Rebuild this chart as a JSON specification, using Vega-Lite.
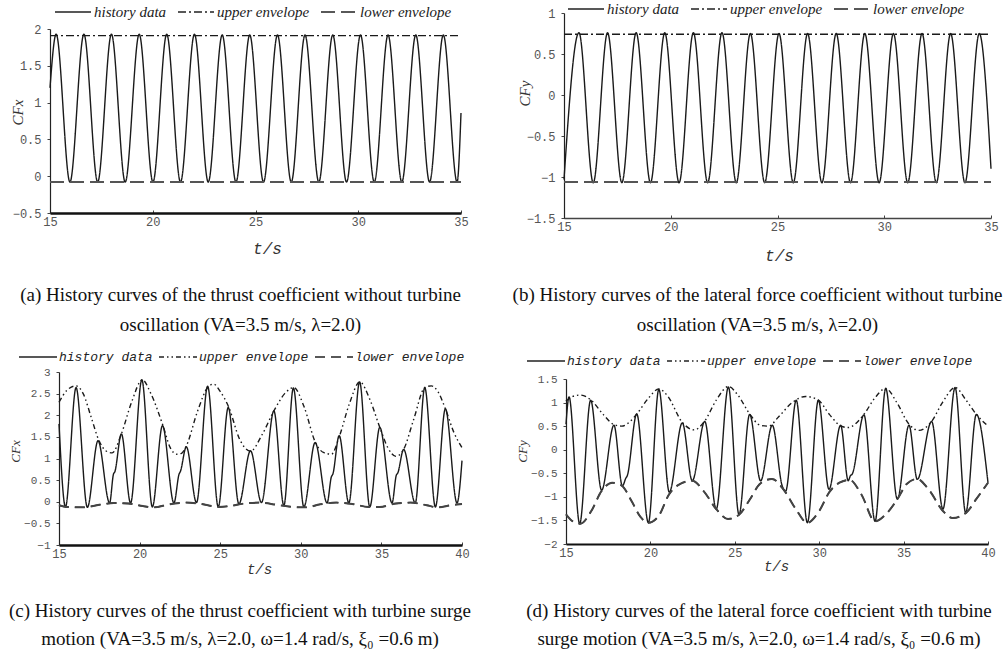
{
  "$schema": "https://vega.github.io/schema/vega-lite/v6.json",
  "padding": {"left": 8, "top": 0, "right": 0, "bottom": 0},
  "background": "white",
  "config": {
    "view": {"stroke": null},
    "axis": {"grid": false, "labelFont": "Liberation Mono", "labelFontSize": 12, "labelColor": "#555", "domainColor": "#222", "tickColor": "#444", "labelFlush": false, "titleFontWeight": "normal", "titleColor": "#333"},
    "axisX": {"tickSize": -3, "labelPadding": 6},
    "axisY": {"tickSize": 3, "labelPadding": 6, "domainWidth": 1.2},
    "legend": {"title": null, "direction": "horizontal", "symbolStrokeColor": "#222", "labelColor": "#222", "labelFontStyle": "italic", "padding": 0, "symbolSize": 256}
  },
  "datasets": {
    "a": [
      {"t": 15, "v": 1.2, "s": "h"}, {"t": 15.3, "v": 1.93, "s": "h"}, {"t": 15.97, "v": -0.08, "s": "h"}, {"t": 16.65, "v": 1.93, "s": "h"}, {"t": 17.32, "v": -0.08, "s": "h"}, {"t": 17.99, "v": 1.93, "s": "h"}, {"t": 18.66, "v": -0.08, "s": "h"}, {"t": 19.34, "v": 1.93, "s": "h"}, {"t": 20.01, "v": -0.08, "s": "h"}, {"t": 20.68, "v": 1.93, "s": "h"}, {"t": 21.35, "v": -0.08, "s": "h"}, {"t": 22.03, "v": 1.93, "s": "h"}, {"t": 22.7, "v": -0.08, "s": "h"}, {"t": 23.38, "v": 1.92, "s": "h"}, {"t": 24.05, "v": -0.08, "s": "h"}, {"t": 24.72, "v": 1.92, "s": "h"}, {"t": 25.39, "v": -0.08, "s": "h"}, {"t": 26.07, "v": 1.92, "s": "h"}, {"t": 26.74, "v": -0.08, "s": "h"}, {"t": 27.41, "v": 1.92, "s": "h"}, {"t": 28.08, "v": -0.08, "s": "h"}, {"t": 28.76, "v": 1.92, "s": "h"}, {"t": 29.43, "v": -0.08, "s": "h"}, {"t": 30.11, "v": 1.92, "s": "h"}, {"t": 30.78, "v": -0.08, "s": "h"}, {"t": 31.45, "v": 1.92, "s": "h"}, {"t": 32.12, "v": -0.08, "s": "h"}, {"t": 32.8, "v": 1.92, "s": "h"}, {"t": 33.47, "v": -0.08, "s": "h"}, {"t": 34.14, "v": 1.92, "s": "h"}, {"t": 34.81, "v": -0.08, "s": "h"}, {"t": 35, "v": 0.86, "s": "h"},
      {"t": 15, "v": 1.91, "s": "u"}, {"t": 35, "v": 1.91, "s": "u"},
      {"t": 15, "v": -0.08, "s": "l"}, {"t": 35, "v": -0.08, "s": "l"}
    ],
    "b": [
      {"t": 15, "v": -1.03, "s": "h"}, {"t": 15.7, "v": 0.76, "s": "h"}, {"t": 16.37, "v": -1.07, "s": "h"}, {"t": 17.04, "v": 0.76, "s": "h"}, {"t": 17.71, "v": -1.07, "s": "h"}, {"t": 18.38, "v": 0.76, "s": "h"}, {"t": 19.05, "v": -1.07, "s": "h"}, {"t": 19.72, "v": 0.76, "s": "h"}, {"t": 20.39, "v": -1.07, "s": "h"}, {"t": 21.06, "v": 0.76, "s": "h"}, {"t": 21.73, "v": -1.07, "s": "h"}, {"t": 22.4, "v": 0.76, "s": "h"}, {"t": 23.07, "v": -1.07, "s": "h"}, {"t": 23.73, "v": 0.75, "s": "h"}, {"t": 24.4, "v": -1.07, "s": "h"}, {"t": 25.07, "v": 0.75, "s": "h"}, {"t": 25.74, "v": -1.07, "s": "h"}, {"t": 26.41, "v": 0.75, "s": "h"}, {"t": 27.08, "v": -1.07, "s": "h"}, {"t": 27.75, "v": 0.75, "s": "h"}, {"t": 28.42, "v": -1.07, "s": "h"}, {"t": 29.09, "v": 0.75, "s": "h"}, {"t": 29.76, "v": -1.07, "s": "h"}, {"t": 30.43, "v": 0.75, "s": "h"}, {"t": 31.1, "v": -1.07, "s": "h"}, {"t": 31.77, "v": 0.75, "s": "h"}, {"t": 32.44, "v": -1.07, "s": "h"}, {"t": 33.11, "v": 0.75, "s": "h"}, {"t": 33.78, "v": -1.07, "s": "h"}, {"t": 34.45, "v": 0.75, "s": "h"}, {"t": 35, "v": -0.9, "s": "h"},
      {"t": 15, "v": 0.74, "s": "u"}, {"t": 35, "v": 0.74, "s": "u"},
      {"t": 15, "v": -1.06, "s": "l"}, {"t": 35, "v": -1.06, "s": "l"}
    ],
    "c": [
      {"t": 15, "v": 1.8, "s": "h"}, {"t": 15.4, "v": -0.12, "s": "h"}, {"t": 16.06, "v": 2.64, "s": "h"}, {"t": 16.76, "v": -0.13, "s": "h"}, {"t": 17.42, "v": 1.41, "s": "h"}, {"t": 18.14, "v": -0.03, "s": "h"}, {"t": 18.38, "v": 0.64, "s": "h"}, {"t": 18.46, "v": 0.69, "s": "h"}, {"t": 18.87, "v": 1.57, "s": "h"}, {"t": 19.44, "v": -0.03, "s": "h"}, {"t": 20.14, "v": 2.82, "s": "h"}, {"t": 20.79, "v": -0.12, "s": "h"}, {"t": 21.42, "v": 1.76, "s": "h"}, {"t": 22.13, "v": -0.03, "s": "h"}, {"t": 22.45, "v": 0.64, "s": "h"}, {"t": 22.53, "v": 0.7, "s": "h"}, {"t": 22.9, "v": 1.27, "s": "h"}, {"t": 23.53, "v": -0.02, "s": "h"}, {"t": 24.22, "v": 2.67, "s": "h"}, {"t": 24.88, "v": -0.12, "s": "h"}, {"t": 25.5, "v": 2.18, "s": "h"}, {"t": 26.16, "v": -0.05, "s": "h"}, {"t": 26.88, "v": 1.18, "s": "h"}, {"t": 27.56, "v": -0.02, "s": "h"}, {"t": 28.33, "v": 2.1, "s": "h"}, {"t": 28.95, "v": -0.09, "s": "h"}, {"t": 29.54, "v": 2.63, "s": "h"}, {"t": 30.19, "v": -0.12, "s": "h"}, {"t": 30.89, "v": 1.37, "s": "h"}, {"t": 31.63, "v": -0.03, "s": "h"}, {"t": 31.9, "v": 0.58, "s": "h"}, {"t": 31.98, "v": 0.63, "s": "h"}, {"t": 32.38, "v": 1.53, "s": "h"}, {"t": 32.98, "v": -0.03, "s": "h"}, {"t": 33.65, "v": 2.77, "s": "h"}, {"t": 34.28, "v": -0.12, "s": "h"}, {"t": 34.9, "v": 1.72, "s": "h"}, {"t": 35.66, "v": -0.03, "s": "h"}, {"t": 35.93, "v": 0.62, "s": "h"}, {"t": 36.01, "v": 0.66, "s": "h"}, {"t": 36.38, "v": 1.21, "s": "h"}, {"t": 37.1, "v": -0.03, "s": "h"}, {"t": 37.69, "v": 2.64, "s": "h"}, {"t": 38.35, "v": -0.12, "s": "h"}, {"t": 38.97, "v": 2.15, "s": "h"}, {"t": 39.69, "v": -0.03, "s": "h"}, {"t": 40, "v": 0.95, "s": "h"},
      {"t": 15, "v": 2.3, "s": "u"}, {"t": 15.5, "v": 2.58, "s": "u"}, {"t": 16.06, "v": 2.68, "s": "u"}, {"t": 16.5, "v": 2.5, "s": "u"}, {"t": 17.0, "v": 1.95, "s": "u"}, {"t": 17.44, "v": 1.45, "s": "u"}, {"t": 17.9, "v": 1.18, "s": "u"}, {"t": 18.3, "v": 1.13, "s": "u"}, {"t": 18.87, "v": 1.57, "s": "u"}, {"t": 19.5, "v": 2.3, "s": "u"}, {"t": 20.17, "v": 2.82, "s": "u"}, {"t": 20.7, "v": 2.5, "s": "u"}, {"t": 21.45, "v": 1.76, "s": "u"}, {"t": 21.9, "v": 1.25, "s": "u"}, {"t": 22.3, "v": 1.1, "s": "u"}, {"t": 22.6, "v": 1.12, "s": "u"}, {"t": 22.91, "v": 1.3, "s": "u"}, {"t": 23.6, "v": 2.1, "s": "u"}, {"t": 24.26, "v": 2.66, "s": "u"}, {"t": 24.6, "v": 2.72, "s": "u"}, {"t": 25.0, "v": 2.55, "s": "u"}, {"t": 25.54, "v": 2.18, "s": "u"}, {"t": 26.2, "v": 1.45, "s": "u"}, {"t": 26.88, "v": 1.17, "s": "u"}, {"t": 27.6, "v": 1.55, "s": "u"}, {"t": 28.33, "v": 2.1, "s": "u"}, {"t": 29.0, "v": 2.5, "s": "u"}, {"t": 29.57, "v": 2.64, "s": "u"}, {"t": 30.2, "v": 2.2, "s": "u"}, {"t": 30.91, "v": 1.37, "s": "u"}, {"t": 31.4, "v": 1.14, "s": "u"}, {"t": 31.9, "v": 1.1, "s": "u"}, {"t": 32.4, "v": 1.52, "s": "u"}, {"t": 33.0, "v": 2.25, "s": "u"}, {"t": 33.66, "v": 2.77, "s": "u"}, {"t": 34.3, "v": 2.35, "s": "u"}, {"t": 34.9, "v": 1.72, "s": "u"}, {"t": 35.4, "v": 1.25, "s": "u"}, {"t": 35.9, "v": 1.05, "s": "u"}, {"t": 36.38, "v": 1.21, "s": "u"}, {"t": 37.0, "v": 1.9, "s": "u"}, {"t": 37.69, "v": 2.64, "s": "u"}, {"t": 38.1, "v": 2.68, "s": "u"}, {"t": 38.5, "v": 2.55, "s": "u"}, {"t": 38.97, "v": 2.15, "s": "u"}, {"t": 39.5, "v": 1.6, "s": "u"}, {"t": 40, "v": 1.25, "s": "u"},
      {"t": 15, "v": -0.08, "s": "l"}, {"t": 15.5, "v": -0.12, "s": "l"}, {"t": 16.5, "v": -0.13, "s": "l"}, {"t": 17.5, "v": -0.07, "s": "l"}, {"t": 18.4, "v": -0.03, "s": "l"}, {"t": 19.3, "v": -0.04, "s": "l"}, {"t": 20.2, "v": -0.1, "s": "l"}, {"t": 20.9, "v": -0.13, "s": "l"}, {"t": 21.8, "v": -0.06, "s": "l"}, {"t": 22.9, "v": -0.02, "s": "l"}, {"t": 23.8, "v": -0.05, "s": "l"}, {"t": 24.9, "v": -0.12, "s": "l"}, {"t": 25.6, "v": -0.1, "s": "l"}, {"t": 26.5, "v": -0.04, "s": "l"}, {"t": 27.5, "v": -0.02, "s": "l"}, {"t": 28.5, "v": -0.07, "s": "l"}, {"t": 29.5, "v": -0.12, "s": "l"}, {"t": 30.3, "v": -0.13, "s": "l"}, {"t": 31.2, "v": -0.06, "s": "l"}, {"t": 32.2, "v": -0.02, "s": "l"}, {"t": 33.2, "v": -0.05, "s": "l"}, {"t": 34.2, "v": -0.12, "s": "l"}, {"t": 34.9, "v": -0.12, "s": "l"}, {"t": 35.9, "v": -0.04, "s": "l"}, {"t": 36.8, "v": -0.02, "s": "l"}, {"t": 37.8, "v": -0.08, "s": "l"}, {"t": 38.5, "v": -0.13, "s": "l"}, {"t": 39.3, "v": -0.08, "s": "l"}, {"t": 40, "v": -0.05, "s": "l"}
    ],
    "d": [
      {"t": 15, "v": 0.54, "s": "h"}, {"t": 15.18, "v": 1.12, "s": "h"}, {"t": 15.81, "v": -1.57, "s": "h"}, {"t": 16.46, "v": 1.05, "s": "h"}, {"t": 17.11, "v": -0.86, "s": "h"}, {"t": 17.84, "v": 0.52, "s": "h"}, {"t": 18.34, "v": -0.77, "s": "h"}, {"t": 18.55, "v": -0.6, "s": "h"}, {"t": 18.62, "v": -0.56, "s": "h"}, {"t": 19.19, "v": 0.76, "s": "h"}, {"t": 19.88, "v": -1.55, "s": "h"}, {"t": 20.5, "v": 1.28, "s": "h"}, {"t": 21.12, "v": -0.9, "s": "h"}, {"t": 21.89, "v": 0.57, "s": "h"}, {"t": 22.48, "v": -0.66, "s": "h"}, {"t": 23.22, "v": 0.6, "s": "h"}, {"t": 23.9, "v": -1.26, "s": "h"}, {"t": 24.62, "v": 1.33, "s": "h"}, {"t": 25.25, "v": -1.38, "s": "h"}, {"t": 25.88, "v": 0.75, "s": "h"}, {"t": 26.53, "v": -0.66, "s": "h"}, {"t": 27.22, "v": 0.52, "s": "h"}, {"t": 27.81, "v": -0.77, "s": "h"}, {"t": 28.01, "v": -0.88, "s": "h"}, {"t": 28.64, "v": 1.05, "s": "h"}, {"t": 29.3, "v": -1.55, "s": "h"}, {"t": 29.95, "v": 1.05, "s": "h"}, {"t": 30.58, "v": -0.84, "s": "h"}, {"t": 31.27, "v": 0.52, "s": "h"}, {"t": 31.72, "v": -0.66, "s": "h"}, {"t": 31.85, "v": -0.55, "s": "h"}, {"t": 31.95, "v": -0.52, "s": "h"}, {"t": 32.65, "v": 0.74, "s": "h"}, {"t": 33.31, "v": -1.52, "s": "h"}, {"t": 33.94, "v": 1.3, "s": "h"}, {"t": 34.63, "v": -1.05, "s": "h"}, {"t": 35.32, "v": 0.52, "s": "h"}, {"t": 35.81, "v": -0.63, "s": "h"}, {"t": 36.66, "v": 0.6, "s": "h"}, {"t": 37.33, "v": -1.26, "s": "h"}, {"t": 38.05, "v": 1.32, "s": "h"}, {"t": 38.68, "v": -1.34, "s": "h"}, {"t": 39.31, "v": 0.75, "s": "h"}, {"t": 40, "v": -0.7, "s": "h"},
      {"t": 15, "v": 1.03, "s": "u"}, {"t": 15.4, "v": 1.13, "s": "u"}, {"t": 15.85, "v": 1.16, "s": "u"}, {"t": 16.46, "v": 1.06, "s": "u"}, {"t": 17.2, "v": 0.75, "s": "u"}, {"t": 17.8, "v": 0.54, "s": "u"}, {"t": 18.3, "v": 0.5, "s": "u"}, {"t": 18.8, "v": 0.6, "s": "u"}, {"t": 19.2, "v": 0.76, "s": "u"}, {"t": 19.9, "v": 1.1, "s": "u"}, {"t": 20.5, "v": 1.29, "s": "u"}, {"t": 21.0, "v": 1.15, "s": "u"}, {"t": 21.89, "v": 0.58, "s": "u"}, {"t": 22.6, "v": 0.42, "s": "u"}, {"t": 23.2, "v": 0.6, "s": "u"}, {"t": 23.9, "v": 1.05, "s": "u"}, {"t": 24.62, "v": 1.34, "s": "u"}, {"t": 25.2, "v": 1.15, "s": "u"}, {"t": 25.88, "v": 0.76, "s": "u"}, {"t": 26.5, "v": 0.52, "s": "u"}, {"t": 27.0, "v": 0.5, "s": "u"}, {"t": 27.6, "v": 0.7, "s": "u"}, {"t": 28.4, "v": 1.0, "s": "u"}, {"t": 29.2, "v": 1.13, "s": "u"}, {"t": 29.95, "v": 1.05, "s": "u"}, {"t": 30.6, "v": 0.75, "s": "u"}, {"t": 31.3, "v": 0.5, "s": "u"}, {"t": 31.7, "v": 0.47, "s": "u"}, {"t": 32.65, "v": 0.75, "s": "u"}, {"t": 33.3, "v": 1.1, "s": "u"}, {"t": 33.94, "v": 1.3, "s": "u"}, {"t": 34.6, "v": 1.0, "s": "u"}, {"t": 35.3, "v": 0.55, "s": "u"}, {"t": 35.9, "v": 0.41, "s": "u"}, {"t": 36.66, "v": 0.6, "s": "u"}, {"t": 37.3, "v": 1.0, "s": "u"}, {"t": 38.05, "v": 1.32, "s": "u"}, {"t": 38.7, "v": 1.05, "s": "u"}, {"t": 39.31, "v": 0.75, "s": "u"}, {"t": 40, "v": 0.5, "s": "u"},
      {"t": 15, "v": -1.37, "s": "l"}, {"t": 15.4, "v": -1.52, "s": "l"}, {"t": 15.85, "v": -1.57, "s": "l"}, {"t": 16.5, "v": -1.3, "s": "l"}, {"t": 17.1, "v": -0.88, "s": "l"}, {"t": 17.74, "v": -0.7, "s": "l"}, {"t": 18.3, "v": -0.76, "s": "l"}, {"t": 18.9, "v": -1.1, "s": "l"}, {"t": 19.4, "v": -1.42, "s": "l"}, {"t": 19.88, "v": -1.55, "s": "l"}, {"t": 20.5, "v": -1.4, "s": "l"}, {"t": 21.1, "v": -0.95, "s": "l"}, {"t": 21.8, "v": -0.72, "s": "l"}, {"t": 22.48, "v": -0.66, "s": "l"}, {"t": 23.2, "v": -0.9, "s": "l"}, {"t": 23.9, "v": -1.26, "s": "l"}, {"t": 24.6, "v": -1.47, "s": "l"}, {"t": 25.25, "v": -1.38, "s": "l"}, {"t": 25.9, "v": -1.05, "s": "l"}, {"t": 26.5, "v": -0.72, "s": "l"}, {"t": 27.2, "v": -0.62, "s": "l"}, {"t": 27.9, "v": -0.85, "s": "l"}, {"t": 28.6, "v": -1.25, "s": "l"}, {"t": 29.3, "v": -1.55, "s": "l"}, {"t": 30.0, "v": -1.3, "s": "l"}, {"t": 30.6, "v": -0.9, "s": "l"}, {"t": 31.2, "v": -0.7, "s": "l"}, {"t": 31.8, "v": -0.64, "s": "l"}, {"t": 32.5, "v": -0.95, "s": "l"}, {"t": 33.31, "v": -1.52, "s": "l"}, {"t": 34.0, "v": -1.35, "s": "l"}, {"t": 34.63, "v": -1.05, "s": "l"}, {"t": 35.2, "v": -0.72, "s": "l"}, {"t": 35.8, "v": -0.62, "s": "l"}, {"t": 36.5, "v": -0.85, "s": "l"}, {"t": 37.33, "v": -1.3, "s": "l"}, {"t": 37.9, "v": -1.45, "s": "l"}, {"t": 38.7, "v": -1.34, "s": "l"}, {"t": 39.3, "v": -1.05, "s": "l"}, {"t": 40, "v": -0.7, "s": "l"}
    ]
  },
  "columns": 2,
  "spacing": {"row": 13, "column": 40},
  "resolve": {"scale": {"strokeDash": "independent"}, "legend": {"strokeDash": "independent"}},
  "concat": [
    {
      "data": {"name": "a"},
      "width": 411, "height": 200,
      "title": {"text": ["(a) History curves of the thrust coefficient without turbine", "oscillation (VA=3.5 m/s, λ=2.0)"], "orient": "bottom", "anchor": "middle", "dx": -15, "offset": 30, "font": "Liberation Serif", "fontSize": 19, "fontWeight": "normal", "lineHeight": 30, "color": "#111"},
      "encoding": {
        "x": {"field": "t", "type": "quantitative", "scale": {"domain": [15, 35], "nice": false, "zero": false}, "axis": {"values": [15, 20, 25, 30, 35], "format": "~g", "title": "t/s", "titleFont": "Liberation Mono", "titleFontStyle": "italic", "titleFontSize": 16, "titleX": 217, "titleY": 35, "titleBaseline": "middle", "domainWidth": 2.5, "domainColor": "#111"}},
        "y": {"field": "v", "type": "quantitative", "scale": {"domain": [-0.5, 2], "nice": false, "zero": false, "range": [200, 16]}, "axis": {"values": [-0.5, 0, 0.5, 1, 1.5, 2], "format": "~g", "title": "CFx", "titleFont": "Liberation Serif", "titleFontStyle": "italic", "titleFontSize": 15, "titleAngle": 270, "titleX": -33, "titleY": 99, "titleBaseline": "middle", "titleAlign": "center"}}
      },
      "layer": [
        {"mark": {"type": "line", "interpolate": "monotone", "color": "#1a1a1a", "strokeWidth": 1.4},
         "encoding": {"strokeDash": {"field": "s", "type": "nominal", "scale": {"domain": ["h", "u", "l"], "range": [[1, 0], [8, 3, 2, 3], [14, 6]]}, "legend": {"orient": "none", "legendX": 14, "legendY": -10, "symbolType": "M-2.25,0H2.25", "symbolStrokeWidth": 1.6, "labelFont": "Liberation Serif", "labelFontSize": 15, "labelOffset": 12, "columnPadding": 7, "labelExpr": "datum.label == 'h' ? 'history data' : datum.label == 'u' ? 'upper envelope' : 'lower envelope'"}}}},
        {"transform": [{"filter": "datum.s == 'l'"}], "mark": {"type": "line", "interpolate": "monotone", "color": "#555", "strokeWidth": 2, "strokeDash": [14, 6]}}
      ]
    },
    {
      "data": {"name": "b"},
      "width": 427, "height": 205,
      "title": {"text": ["(b) History curves of the lateral force coefficient without turbine", "oscillation (VA=3.5 m/s, λ=2.0)"], "orient": "bottom", "anchor": "middle", "dx": -20, "offset": 23, "font": "Liberation Serif", "fontSize": 19, "fontWeight": "normal", "lineHeight": 30, "color": "#111"},
      "encoding": {
        "x": {"field": "t", "type": "quantitative", "scale": {"domain": [15, 35], "nice": false, "zero": false}, "axis": {"values": [15, 20, 25, 30, 35], "format": "~g", "title": "t/s", "titleFont": "Liberation Mono", "titleFontStyle": "italic", "titleFontSize": 16, "titleX": 215, "titleY": 37, "titleBaseline": "middle", "domainWidth": 1.5, "domainColor": "#444"}},
        "y": {"field": "v", "type": "quantitative", "scale": {"domain": [-1.5, 1], "nice": false, "zero": false}, "axis": {"values": [-1.5, -1, -0.5, 0, 0.5, 1], "format": "~g", "title": "CFy", "titleFont": "Liberation Serif", "titleFontStyle": "italic", "titleFontSize": 15, "titleAngle": 270, "titleX": -40, "titleY": 80, "titleBaseline": "middle", "titleAlign": "center"}}
      },
      "layer": [
        {"mark": {"type": "line", "interpolate": "monotone", "color": "#1a1a1a", "strokeWidth": 1.4},
         "encoding": {"strokeDash": {"field": "s", "type": "nominal", "scale": {"domain": ["h", "u", "l"], "range": [[1, 0], [8, 3, 2, 3], [14, 6]]}, "legend": {"orient": "none", "legendX": 13, "legendY": -13, "symbolType": "M-2.25,0H2.25", "symbolStrokeWidth": 1.6, "labelFont": "Liberation Serif", "labelFontSize": 15, "labelOffset": 12, "columnPadding": 7, "labelExpr": "datum.label == 'h' ? 'history data' : datum.label == 'u' ? 'upper envelope' : 'lower envelope'"}}}},
        {"transform": [{"filter": "datum.s == 'l'"}], "mark": {"type": "line", "interpolate": "monotone", "color": "#555", "strokeWidth": 2, "strokeDash": [14, 6]}}
      ]
    },
    {
      "data": {"name": "c"},
      "width": 412, "height": 173,
      "title": {"text": ["(c) History curves of the thrust coefficient with turbine surge", "motion (VA=3.5 m/s, λ=2.0, ω=1.4 rad/s,  ξ₀ =0.6 m)"], "orient": "bottom", "anchor": "middle", "dx": -16, "offset": 26, "font": "Liberation Serif", "fontSize": 19, "fontWeight": "normal", "lineHeight": 28, "color": "#111"},
      "encoding": {
        "x": {"field": "t", "type": "quantitative", "scale": {"domain": [15, 40], "nice": false, "zero": false, "range": [9, 412]}, "axis": {"values": [15, 20, 25, 30, 35, 40], "format": "~g", "title": "t/s", "titleFont": "Liberation Mono", "titleFontStyle": "italic", "titleFontSize": 14, "titleX": 209, "titleY": 24, "titleBaseline": "middle", "domainWidth": 2.5, "domainColor": "#111"}},
        "y": {"field": "v", "type": "quantitative", "scale": {"domain": [-1, 3], "nice": false, "zero": false}, "axis": {"offset": -9, "values": [-1, -0.5, 0, 0.5, 1, 1.5, 2, 2.5, 3], "format": "~g", "labelFontSize": 11, "title": "CFx", "titleFont": "Liberation Serif", "titleFontStyle": "italic", "titleFontSize": 13, "titleAngle": 270, "titleX": -44, "titleY": 79, "titleBaseline": "middle", "titleAlign": "center"}}
      },
      "layer": [
        {"mark": {"type": "line", "interpolate": "monotone", "color": "#1a1a1a", "strokeWidth": 1.4},
         "encoding": {"strokeDash": {"field": "s", "type": "nominal", "scale": {"domain": ["h", "u", "l"], "range": [[1, 0], [5, 3, 1.5, 3, 1.5, 3], [10, 6]]}, "legend": {"orient": "none", "legendX": -21, "legendY": -24, "symbolType": "M-2.375,0H2.375", "symbolStrokeWidth": 1.6, "labelFont": "Liberation Mono", "labelFontSize": 13, "labelOffset": 12, "columnPadding": 2, "labelExpr": "datum.label == 'h' ? 'history data' : datum.label == 'u' ? 'upper envelope' : 'lower envelope'"}}}},
        {"transform": [{"filter": "datum.s == 'l'"}], "mark": {"type": "line", "interpolate": "monotone", "color": "#444", "strokeWidth": 2, "strokeDash": [10, 6]}}
      ]
    },
    {
      "data": {"name": "d"},
      "width": 424, "height": 172,
      "title": {"text": ["(d) History curves of the lateral force coefficient with turbine", "surge motion (VA=3.5 m/s, λ=2.0, ω=1.4 rad/s,  ξ₀ =0.6 m)"], "orient": "bottom", "anchor": "middle", "dx": -17, "offset": 29, "font": "Liberation Serif", "fontSize": 19, "fontWeight": "normal", "lineHeight": 28, "color": "#111"},
      "encoding": {
        "x": {"field": "t", "type": "quantitative", "scale": {"domain": [15, 40], "nice": false, "zero": false, "range": [2, 424]}, "axis": {"values": [15, 20, 25, 30, 35, 40], "format": "~g", "title": "t/s", "titleFont": "Liberation Mono", "titleFontStyle": "italic", "titleFontSize": 14, "titleX": 212, "titleY": 22, "titleBaseline": "middle", "domainWidth": 2, "domainColor": "#111"}},
        "y": {"field": "v", "type": "quantitative", "scale": {"domain": [-2, 1.5], "nice": false, "zero": false, "range": [172, 7]}, "axis": {"offset": -2, "values": [-2, -1.5, -1, -0.5, 0, 0.5, 1, 1.5], "format": "~g", "labelFontSize": 11, "title": "CFy", "titleFont": "Liberation Serif", "titleFontStyle": "italic", "titleFontSize": 13, "titleAngle": 270, "titleX": -44, "titleY": 79, "titleBaseline": "middle", "titleAlign": "center"}}
      },
      "layer": [
        {"mark": {"type": "line", "interpolate": "monotone", "color": "#1a1a1a", "strokeWidth": 1.4},
         "encoding": {"strokeDash": {"field": "s", "type": "nominal", "scale": {"domain": ["h", "u", "l"], "range": [[1, 0], [5, 3, 1.5, 3, 1.5, 3], [10, 6]]}, "legend": {"orient": "none", "legendX": -27, "legendY": -20, "symbolType": "M-2.375,0H2.375", "symbolStrokeWidth": 1.6, "labelFont": "Liberation Mono", "labelFontSize": 13, "labelOffset": 12, "columnPadding": 2, "labelExpr": "datum.label == 'h' ? 'history data' : datum.label == 'u' ? 'upper envelope' : 'lower envelope'"}}}},
        {"transform": [{"filter": "datum.s == 'l'"}], "mark": {"type": "line", "interpolate": "monotone", "color": "#444", "strokeWidth": 2, "strokeDash": [10, 6]}}
      ]
    }
  ]
}
